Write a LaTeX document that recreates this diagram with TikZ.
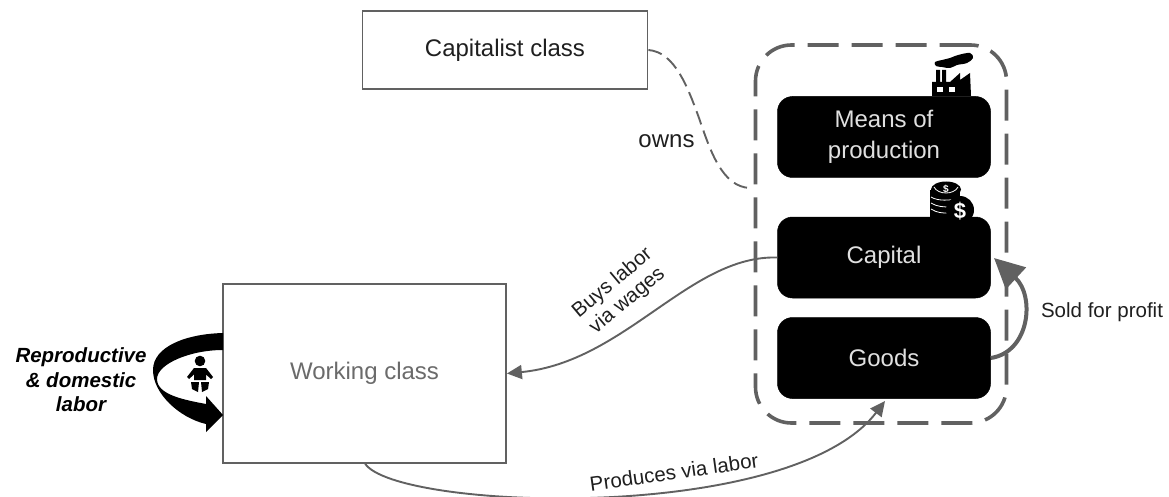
\documentclass[tikz,border=0pt]{standalone}
\usepackage{fontspec}
\setmainfont{Liberation Sans}
\usetikzlibrary{arrows.meta}
\definecolor{edge}{gray}{0.38}
\definecolor{lab}{gray}{0.12}
\tikzset{
  plainbox/.style={draw=edge,line width=1.8pt,fill=white,inner sep=0pt,align=center,font=\fontsize{24}{28}\selectfont,text=lab},
  blackbox/.style={draw=black,fill=black,rounded corners=15pt,line width=0.5pt,minimum width=213pt,minimum height=81pt,inner sep=0pt,align=center,text=black!12,font=\fontsize{24}{31}\selectfont},
  link/.style={draw=edge,line width=1.9pt},
  lab17/.style={inner sep=0pt,align=center,text=lab,font=\fontsize{20.5}{23}\selectfont},
  thinhead/.style={-{Triangle[length=15pt,width=14pt]}},
}
\begin{document}
\begin{tikzpicture}[x=1pt,y=-1pt]
\useasboundingbox (0,0) rectangle (1169,497);
% container
\node[draw=edge,line width=3.6pt,rounded corners=36pt,dash pattern=on 31pt off 13pt,minimum width=251pt,minimum height=378pt,inner sep=0pt] (outer) at (881,234) {};
% boxes
\node[plainbox,minimum width=285pt,minimum height=78pt] (cap) at (505,50) {Capitalist class};
\node[plainbox,minimum width=283pt,minimum height=179pt,text=black!58] (work) at (364.5,373.5) {Working class};
\node[blackbox] (means) at (884,137) {Means of\\production};
\node[blackbox] (capital) at (884,257.5) {Capital};
\node[blackbox] (goods) at (884,358) {Goods};
% free ends
\coordinate (ownsend) at (750,188);
\coordinate (prodstart) at (365,463.5);
\coordinate (prodend) at (885,401);
\coordinate (soldend) at (994,258);
% connectors
\draw[link,dash pattern=on 14pt off 6.5pt] (cap.east) .. controls (675,52) and (688,88) .. (699,118) .. controls (710,150) and (722,187) .. (ownsend);
\draw[link,thinhead] (capital.west) .. controls (690,255) and (625,362) .. (work.east);
\draw[link,thinhead] (prodstart) .. controls (395,510) and (790,525) .. (prodend);
\draw[draw=edge,line width=4pt,-{Triangle[length=30pt,width=29pt]}] (goods.east) .. controls (1030,352) and (1035,296) .. (soldend);
% labels
\node[inner sep=0pt,text=lab,font=\fontsize{24}{28}\selectfont] (ownsl) at (666.5,141) {owns};
\node[lab17,rotate=40] (buysl) at (620,292) {Buys labor\\via wages};
\node[lab17,rotate=8] (prodl) at (674,472) {Produces via labor};
\node[lab17] (soldl) at (1102,312) {Sold for profit};
\node[lab17,text=black,font=\fontsize{20.5}{24.5}\selectfont\bfseries\itshape] (repl) at (81,380) {Reproductive\\\& domestic\\labor};
% reproductive crescent arrow
\fill[black] (223,333) .. controls (185,334) and (153,347) .. (153,370) .. controls (153,394) and (180,418) .. (206,424) -- (206,432) -- (223,415) -- (206,396) -- (206,404) .. controls (185,400) and (157,395) .. (157,379) .. controls (157,364) and (190,350) .. (223,350) -- cycle;
% baby
\fill[black] (200,361) circle (5.3);
\fill[black] (194,368) -- (206,368) -- (213,377) -- (211,379) -- (206,374.5) -- (206,380) -- (194,380) -- (194,374.5) -- (189,379) -- (187,377) -- cycle;
\fill[black] (191,382) -- (199,382) -- (198,392) -- (192,389) -- cycle;
\fill[black] (209,382) -- (201,382) -- (202,392) -- (208,389) -- cycle;
% factory
\fill[black] (932,96) -- (932,82) -- (936,82) -- (936,70) -- (940,70) -- (940,82) -- (942,82) -- (942,70) -- (946,70) -- (946,82) -- (950,82) -- (960,73) -- (960,80) -- (970,73) -- (971,96) -- cycle;
\fill[white] (937,87) rectangle (943,92);
\fill[white] (949,87) rectangle (955,92);
\fill[black] plot[smooth cycle,tension=0.6] coordinates {(935,62) (942,60) (950,58) (958,55) (970,53) (973,58) (967,63) (957,65) (950,68) (942,67) (936,66)};
% coins
\fill[black] (930,190) rectangle (960,217);
\fill[black] (946,189.5) ellipse (15 and 8);
\draw[white,line width=0.8pt] (931,197) .. controls (937,201) and (950,201) .. (960,198);
\draw[white,line width=0.8pt] (931,203) .. controls (937,207) and (945,207) .. (950,207);
\draw[white,line width=0.8pt] (931,209) .. controls (937,213) and (943,213) .. (947,213);
\draw[white,line width=0.8pt] (934,187) .. controls (938,195) and (954,195) .. (958,187);
\fill[black] (960,210) circle (14);
\node[inner sep=0pt,text=white,font=\fontsize{22}{22}\selectfont\bfseries] (dollarb) at (960,211) {\$};
\node[inner sep=0pt,text=white,font=\fontsize{10}{10}\selectfont\bfseries] (dollars) at (946,189) {\$};
\end{tikzpicture}
\end{document}
